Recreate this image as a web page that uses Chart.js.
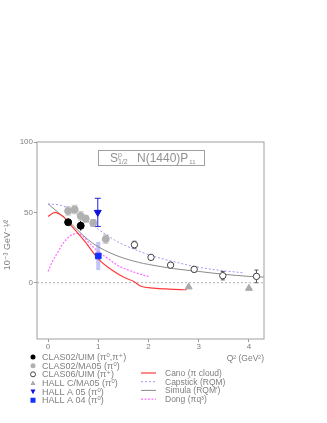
<!DOCTYPE html>
<html>
  <head>
    <title>Roper S1/2 amplitude</title>
    <script src="https://cdn.jsdelivr.net/npm/chart.js"></script>
    <style>
      body { margin: 0; background: #fff; }
    </style>
  </head>
  <body>
    <canvas id="myChart" width="327" height="423"></canvas>
    <script>
      const xTicks = [0, 1, 2, 3, 4];
      const yTicks = [0, 50, 100];

      // data points (Q2 in GeV2, S1/2 in 10^-3 GeV^-1/2)
      const q2Uim02 = [0.4, 0.65];
      const sUim02 = [43, 40.5];
      const eUim02 = [2, 3.5];

      const q2Ma05 = [0.4, 0.53, 0.65, 0.75, 0.9, 1.15];
      const sMa05 = [51, 52, 47.5, 45.5, 42.5, 31];
      const eMa05 = [3, 3, 3, 2.5, 2.5, 3];

      const q2Uim06 = [1.72, 2.05, 2.44, 2.91, 3.48, 4.15];
      const sUim06 = [27, 18, 12.5, 9.5, 5, 4.5];
      const eUim06 = [2.5, 1.5, 2, 2, 3, 4.5];

      const q2HallC = [2.8, 4.0];
      const sHallC = [-3, -4];

      const q2HallA05 = [0.99];
      const sHallA05 = [50];
      const eHallA05 = [10];

      const q2HallA04 = [1.0];
      const sHallA04 = [19];
      const eHallA04 = [10];

      // model curves
      const canoQ2 = [0, 0.14, 0.3, 0.4, 0.55, 0.74, 1.0, 1.25, 1.5, 1.7, 1.85, 2.1, 2.4, 2.76];
      const canoS = [47, 50, 47, 43, 37, 29, 17, 9.5, 4, 1, -2.5, -3.8, -4.5, -5];

      const capstickQ2 = [0, 0.25, 0.5, 0.75, 1.0, 1.25, 1.5, 2.0, 2.5, 3.0, 3.5, 3.9];
      const capstickS = [56, 55, 51, 45, 38, 32, 27, 20, 15, 11, 8.5, 7];

      const simulaQ2 = [0, 0.2, 0.4, 0.6, 0.8, 1.0, 1.25, 1.5, 1.8, 2.0, 2.5, 3.0, 3.5, 4.0, 4.3];
      const simulaS = [56, 50, 44, 37, 30.5, 25.5, 21, 17.5, 14.5, 13, 10, 8, 6, 4.5, 4];

      const dongQ2 = [0, 0.1, 0.2, 0.3, 0.4, 0.5, 0.6, 0.7, 0.8, 1.0, 1.2, 1.4, 1.6, 1.8, 2.0];
      const dongS = [8, 16, 22, 28, 32, 34.5, 35, 33, 29, 22, 17, 12, 9, 6.5, 4.5];

      const pts = (xs, ys) => xs.map((x, i) => ({ x: x, y: ys[i] }));
      const FONT = "'Liberation Sans', 'DejaVu Sans', sans-serif";
      const TXT = "#808080";

      function marker(ctx, style, x, y, r, fill, stroke, rot) {
        ctx.save();
        ctx.translate(x, y);
        if (rot) ctx.rotate((rot * Math.PI) / 180);
        ctx.beginPath();
        if (style === "circle") {
          ctx.arc(0, 0, r, 0, Math.PI * 2);
        } else if (style === "rect") {
          ctx.rect(-r, -r, 2 * r, 2 * r);
        } else if (style === "triangle") {
          ctx.moveTo(0, -r * 1.1);
          ctx.lineTo(r, r * 0.8);
          ctx.lineTo(-r, r * 0.8);
          ctx.closePath();
        }
        if (fill) { ctx.fillStyle = fill; ctx.fill(); }
        if (stroke) { ctx.strokeStyle = stroke; ctx.lineWidth = 1; ctx.stroke(); }
        ctx.restore();
      }

      const errorBars = {
        id: "errorBars",
        beforeDatasetsDraw(chart) {
          const { ctx, scales: { x, y } } = chart;
          chart.data.datasets.forEach((ds) => {
            if (!ds.err) return;
            ctx.save();
            ctx.strokeStyle = ds.errColor;
            ctx.lineWidth = ds.errWidth || 1;
            ds.data.forEach((p, j) => {
              const px = x.getPixelForValue(p.x);
              const top = y.getPixelForValue(p.y + ds.err[j]);
              const bot = y.getPixelForValue(p.y - ds.err[j]);
              ctx.beginPath();
              ctx.moveTo(px, top);
              ctx.lineTo(px, bot);
              if (ds.errCap) {
                ctx.moveTo(px - ds.errCap, top);
                ctx.lineTo(px + ds.errCap, top);
                ctx.moveTo(px - ds.errCap, bot);
                ctx.lineTo(px + ds.errCap, bot);
              }
              ctx.stroke();
            });
            ctx.restore();
          });
        },
      };

      const decorations = {
        id: "decorations",
        beforeDatasetsDraw(chart) {
          const { ctx, chartArea: a, scales: { y } } = chart;
          const y0 = y.getPixelForValue(0);
          ctx.save();
          ctx.strokeStyle = "#b0b0b0";
          ctx.setLineDash([2, 2]);
          ctx.lineWidth = 1;
          ctx.beginPath();
          ctx.moveTo(a.left, y0);
          ctx.lineTo(a.right, y0);
          ctx.stroke();
          ctx.restore();
        },
        afterDraw(chart) {
          const { ctx, chartArea: a } = chart;
          ctx.save();
          // frame
          ctx.strokeStyle = "#a0a0a0";
          ctx.lineWidth = 1;
          ctx.strokeRect(a.left, a.top, a.right - a.left, a.bottom - a.top);

          // title box
          ctx.strokeRect(98.5, 150.5, 106, 15);
          ctx.fillStyle = "#909090";
          ctx.textBaseline = "alphabetic";
          ctx.font = "12px " + FONT;
          ctx.fillText("S", 110, 162);
          ctx.font = "7px " + FONT;
          ctx.fillText("p", 118, 157);
          ctx.fillText("1/2", 118, 164);
          ctx.font = "12px " + FONT;
          ctx.fillText("N(1440)P", 137, 162);
          let w = ctx.measureText("N(1440)P").width;
          ctx.font = "6px " + FONT;
          ctx.fillText("11", 137 + w + 1, 164);

          // y axis title
          ctx.fillStyle = TXT;
          ctx.save();
          ctx.translate(10, 245);
          ctx.rotate(-Math.PI / 2);
          ctx.font = "9px " + FONT;
          ctx.textAlign = "center";
          ctx.fillText("10\u207B\u00B3 GeV\u207B\u00B9\u2044\u00B2", 0, 0);
          ctx.restore();

          // x axis title
          ctx.font = "8.5px " + FONT;
          ctx.textAlign = "right";
          ctx.fillText("Q\u00B2 (GeV\u00B2)", 264, 361);

          // legends
          ctx.textAlign = "left";
          let row = 0;
          let rowL = 0;
          chart.data.datasets.forEach((ds) => {
            if (ds.showLine) {
              const yy = 373 + rowL * 8.7;
              ctx.save();
              ctx.strokeStyle = ds.borderColor;
              ctx.lineWidth = ds.borderWidth;
              ctx.setLineDash(ds.borderDash || []);
              ctx.beginPath();
              ctx.moveTo(141, yy);
              ctx.lineTo(156, yy);
              ctx.stroke();
              ctx.restore();
              ctx.fillStyle = TXT;
              ctx.font = "8.5px " + FONT;
              ctx.fillText(ds.label, 165, yy + 3);
              rowL++;
            } else {
              const yy = 357 + row * 8.65;
              marker(ctx, ds.pointStyle, 33, yy, 2.5,
                ds.pointBackgroundColor === "#fff" ? null : ds.pointBackgroundColor,
                ds.pointBackgroundColor === "#fff" ? ds.pointBorderColor : null,
                ds.pointRotation);
              ctx.fillStyle = TXT;
              ctx.font = "9px " + FONT;
              ctx.fillText(ds.label, 42, yy + 3);
              row++;
            }
          });
          ctx.restore();
        },
      };

      const config = {
        type: "scatter",
        data: {
          datasets: [
            {
              label: "CLAS02/UIM (\u03C0\u2070,\u03C0\u207A)",
              data: pts(q2Uim02, sUim02),
              err: eUim02, errColor: "#000", errCap: 0,
              pointStyle: "circle", pointRadius: 3.5,
              pointBackgroundColor: "#000", pointBorderColor: "#000",
            },
            {
              label: "CLAS02/MA05 (\u03C0\u2070)",
              data: pts(q2Ma05, sMa05),
              err: eMa05, errColor: "#c8c8c8", errCap: 3,
              pointStyle: "circle", pointRadius: 3.5,
              pointBackgroundColor: "#b0b0b0", pointBorderColor: "#b0b0b0",
            },
            {
              label: "CLAS06/UIM (\u03C0\u207A)",
              data: pts(q2Uim06, sUim06),
              err: eUim06, errColor: "#555", errCap: 2,
              pointStyle: "circle", pointRadius: 3.2, pointBorderWidth: 1,
              pointBackgroundColor: "#fff", pointBorderColor: "#444",
            },
            {
              label: "HALL C/MA05 (\u03C0\u2070)",
              data: pts(q2HallC, sHallC),
              pointStyle: "triangle", pointRadius: 4,
              pointBackgroundColor: "#aaaaaa", pointBorderColor: "#aaaaaa",
            },
            {
              label: "HALL A 05 (\u03C0\u2070)",
              data: pts(q2HallA05, sHallA05),
              err: eHallA05, errColor: "#2020e0", errCap: 3,
              pointStyle: "triangle", pointRadius: 4, pointRotation: 180,
              pointBackgroundColor: "#1010e0", pointBorderColor: "#1010e0",
            },
            {
              label: "HALL A 04 (\u03C0\u2070)",
              data: pts(q2HallA04, sHallA04),
              err: eHallA04, errColor: "rgba(140,150,240,0.55)", errWidth: 4,
              pointStyle: "rect", pointRadius: 4,
              pointBackgroundColor: "#1030ff", pointBorderColor: "#1030ff",
            },
            {
              label: "Cano (\u03C0 cloud)",
              data: pts(canoQ2, canoS),
              showLine: true, pointRadius: 0, tension: 0.35,
              borderColor: "#ff3a3a", borderWidth: 1.2,
            },
            {
              label: "Capstick (RQM)",
              data: pts(capstickQ2, capstickS),
              showLine: true, pointRadius: 0, tension: 0.35,
              borderColor: "#9a9af2", borderWidth: 1, borderDash: [2, 2],
            },
            {
              label: "Simula (RQM\u2032)",
              data: pts(simulaQ2, simulaS),
              showLine: true, pointRadius: 0, tension: 0.35,
              borderColor: "#8a8a8a", borderWidth: 1,
            },
            {
              label: "Dong (\u03C0q\u00B3)",
              data: pts(dongQ2, dongS),
              showLine: true, pointRadius: 0, tension: 0.35,
              borderColor: "#ff70ff", borderWidth: 1.3, borderDash: [2, 1.5],
            },
          ],
        },
        options: {
          responsive: false,
          animation: false,
          layout: { padding: { left: 7, right: 63, top: 142, bottom: 64 } },
          plugins: {
            legend: { display: false },
            tooltip: { enabled: false },
          },
          scales: {
            x: {
              type: "linear",
              min: -0.22,
              max: 4.3,
              afterFit: (s) => { s.height = 20; },
              afterBuildTicks: (s) => { s.ticks = xTicks.map((v) => ({ value: v })); },
              border: { display: false },
              grid: { drawOnChartArea: false, drawTicks: true, tickLength: 3, color: "#999" },
              ticks: { padding: 0, color: TXT, font: { size: 8, family: FONT }, maxRotation: 0 },
            },
            y: {
              type: "linear",
              min: -40,
              max: 100,
              afterFit: (s) => { s.width = 30; },
              afterBuildTicks: (s) => { s.ticks = yTicks.map((v) => ({ value: v })); },
              border: { display: false },
              grid: { drawOnChartArea: false, drawTicks: true, tickLength: 3, color: "#999" },
              ticks: { padding: 1, color: TXT, font: { size: 8, family: FONT } },
            },
          },
        },
        plugins: [errorBars, decorations],
      };

      var myChart = new Chart(document.getElementById("myChart"), config);
    </script>
  </body>
</html>
